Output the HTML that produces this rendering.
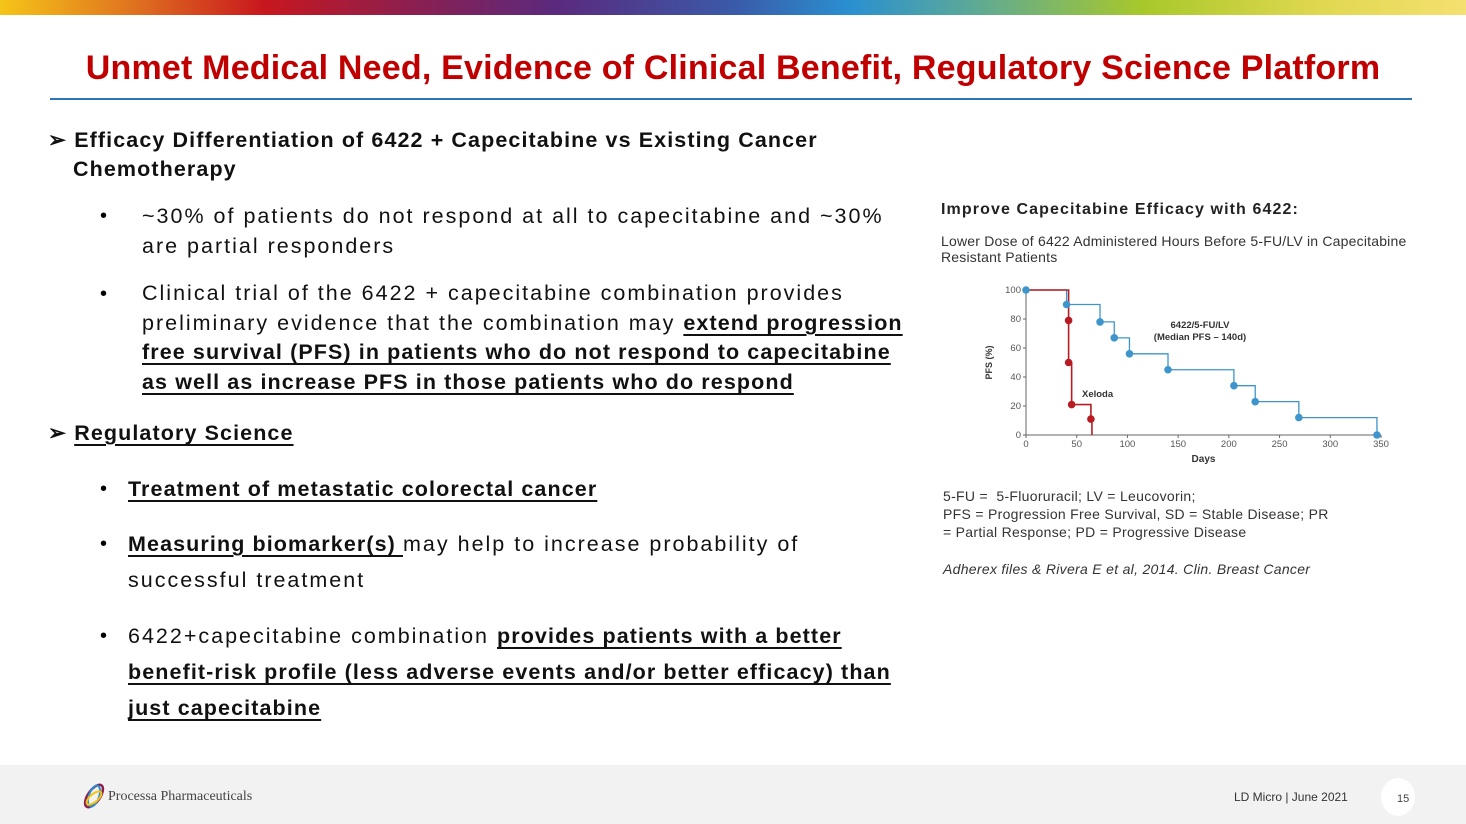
<!DOCTYPE html>
<html><head><meta charset="utf-8"><style>
body{margin:0;width:1466px;height:824px;position:relative;background:#fff;font-family:"Liberation Sans",sans-serif;overflow:hidden}
.a{position:absolute;white-space:nowrap}
.b{font-size:21.5px;color:#111;letter-spacing:2px}
.bold{font-weight:bold;letter-spacing:1.1px}
u{text-decoration-thickness:1.5px;text-underline-offset:4px}
.dot{position:absolute;font-size:20px}
</style></head><body>
<div class="a" style="left:0;top:0;width:1466px;height:15px;background:linear-gradient(90deg,#f5c518 0%,#e0731f 9%,#c8171e 18%,#8c1f4f 28%,#5a2a7e 38%,#3a5aa8 50%,#2a90d0 58%,#5aa89a 66%,#a8c82a 78%,#e0d850 90%,#f5e070 100%)"></div>
<div class="a" style="left:0;width:1466px;text-align:center;top:49px;font-size:34px;color:#c00000;font-weight:bold;letter-spacing:0.2px">Unmet Medical Need, Evidence of Clinical Benefit, Regulatory Science Platform</div>
<div class="a" style="left:50px;top:98px;width:1362px;height:2px;background:#2e75b6"></div>

<div class="a b bold" style="left:48px;top:128px">➢ Efficacy Differentiation of 6422 + Capecitabine vs Existing Cancer</div>
<div class="a b bold" style="left:73px;top:157px">Chemotherapy</div>
<div class="dot" style="left:100px;top:205px">•</div>
<div class="a b" style="left:142px;top:204px">~30% of patients do not respond at all to capecitabine and ~30%</div>
<div class="a b" style="left:142px;top:234px">are partial responders</div>
<div class="dot" style="left:100px;top:283px">•</div>
<div class="a b" style="left:142px;top:281px">Clinical trial of the 6422 + capecitabine combination provides</div>
<div class="a b" style="left:142px;top:311px">preliminary evidence that the combination may <u class="bold">extend progression</u></div>
<div class="a b bold" style="left:142px;top:340px"><u>free survival (PFS) in patients who do not respond to capecitabine</u></div>
<div class="a b bold" style="left:142px;top:370px"><u>as well as increase PFS in those patients who do respond</u></div>

<div class="a b bold" style="left:48px;top:421px">➢ <u>Regulatory Science</u></div>
<div class="dot" style="left:100px;top:478px">•</div>
<div class="a b bold" style="left:128px;top:477px"><u>Treatment of metastatic colorectal cancer</u></div>
<div class="dot" style="left:100px;top:533px">•</div>
<div class="a b" style="left:128px;top:532px"><u class="bold">Measuring biomarker(s) </u>may help to increase probability of</div>
<div class="a b" style="left:128px;top:568px">successful treatment</div>
<div class="dot" style="left:100px;top:625px">•</div>
<div class="a b" style="left:128px;top:624px">6422+capecitabine combination <u class="bold">provides patients with a better</u></div>
<div class="a b bold" style="left:128px;top:660px"><u>benefit-risk profile (less adverse events and/or better efficacy) than</u></div>
<div class="a b bold" style="left:128px;top:696px"><u>just capecitabine</u></div>

<div class="a" style="left:941px;top:201px;font-size:16px;font-weight:bold;color:#222;letter-spacing:1.1px">Improve Capecitabine Efficacy with 6422:</div>
<div class="a" style="left:941px;top:233px;font-size:14px;color:#333;line-height:16px;letter-spacing:0.2px">Lower Dose of 6422 Administered Hours Before 5-FU/LV in Capecitabine<br>Resistant Patients</div>

<svg class="a" id="chart" style="left:0;top:0" width="1466" height="824"></svg>

<div class="a" style="left:943px;top:487px;font-size:14px;color:#333;line-height:18px;letter-spacing:0.3px">5-FU =&nbsp; 5-Fluoruracil; LV = Leucovorin;<br>PFS = Progression Free Survival, SD = Stable Disease; PR<br>= Partial Response; PD = Progressive Disease</div>
<div class="a" style="left:943px;top:561px;font-size:14px;color:#333;font-style:italic;letter-spacing:0.3px">Adherex files &amp; Rivera E et al, 2014. Clin. Breast Cancer</div>

<div class="a" style="left:0;top:765px;width:1466px;height:59px;background:#f2f2f2"></div>
<svg class="a" style="left:80px;top:781px" width="28" height="30"><ellipse cx="14" cy="15" rx="6" ry="13" transform="rotate(35 14 15)" fill="none" stroke="#8c1f4f" stroke-width="2.5"/><ellipse cx="14" cy="15" rx="5" ry="11" transform="rotate(20 14 15)" fill="none" stroke="#2a90d0" stroke-width="2"/><ellipse cx="14" cy="17" rx="4" ry="9" transform="rotate(50 14 17)" fill="none" stroke="#f5c518" stroke-width="2"/></svg>
<div class="a" style="left:108px;top:789px;font-family:'Liberation Serif',serif;font-size:14px;color:#444">Processa Pharmaceuticals</div>
<div class="a" style="left:1234px;top:790px;font-size:12px;color:#333">LD Micro | June 2021</div>
<div class="a" style="left:1381px;top:778px;width:34px;height:38px;border-radius:50%;background:#fff"></div>
<div class="a" style="left:1397px;top:793px;font-size:11px;color:#444">15</div>

<script>
const xTicks=[0,50,100,150,200,250,300,350];
const yTicks=[0,20,40,60,80,100];
const blueDays=[0,40,73,87,102,140,205,226,269,346];
const bluePfs=[100,90,78,67,56,45,34,23,12,0];
const redDays=[0,42,42,45,64];
const redPfs=[100,79,50,21,11];
const redEnd=65;
const X=d=>1026+d*(1381-1026)/350;
const Y=v=>435-v*1.45;
const svg=document.getElementById('chart');
const NS='http://www.w3.org/2000/svg';
function mk(t,a){const e=document.createElementNS(NS,t);for(const k in a)e.setAttribute(k,a[k]);svg.appendChild(e);return e;}
let e=mk('path',{d:`M${X(0)},${Y(100)}V${Y(0)}H${X(350)}`,fill:'none',stroke:'#666','stroke-width':1});


xTicks.forEach(t=>{mk('line',{x1:X(t),x2:X(t),y1:Y(0),y2:Y(0)+3,stroke:'#666'});
 const l=mk('text',{x:X(t),y:Y(0)+12,'font-size':9.5,'text-anchor':'middle',fill:'#555','font-family':'Liberation Sans'});l.textContent=t;
 
 });
yTicks.forEach(t=>{mk('line',{x1:X(0)-3,x2:X(0),y1:Y(t),y2:Y(t),stroke:'#666'});
 const l=mk('text',{x:X(0)-5,y:Y(t)+3,'font-size':9.5,'text-anchor':'end',fill:'#555','font-family':'Liberation Sans'});l.textContent=t;
 
 });
let t=mk('text',{x:X(175),y:462,'font-size':10,'font-weight':'bold','text-anchor':'middle',fill:'#333','font-family':'Liberation Sans'});t.textContent='Days';


t=mk('text',{x:0,y:0,'font-size':9,'font-weight':'bold','text-anchor':'middle',fill:'#333','font-family':'Liberation Sans',transform:`translate(992,${Y(50)}) rotate(-90)`});t.textContent='PFS (%)';


let d=`M${X(blueDays[0])},${Y(bluePfs[0])}`;
for(let i=1;i<blueDays.length;i++)d+=`H${X(blueDays[i])}V${Y(bluePfs[i])}`;
e=mk('path',{d,fill:'none',stroke:'#3d95cc','stroke-width':1.3});


d=`M${X(redDays[0])},${Y(redPfs[0])}`;
for(let i=1;i<redDays.length;i++)d+=`H${X(redDays[i])}V${Y(redPfs[i])}`;
d+=`H${X(redEnd)}V${Y(0)}`;
e=mk('path',{d,fill:'none',stroke:'#b81c22','stroke-width':1.6});


blueDays.forEach((x,i)=>{const c=mk('circle',{cx:X(x),cy:Y(bluePfs[i]),r:3.8,fill:'#3d95cc'});
 
 });
redDays.slice(1).forEach((x,i)=>{const c=mk('circle',{cx:X(x),cy:Y(redPfs[i+1]),r:3.8,fill:'#b81c22'});
 
 });
t=mk('text',{x:1200,y:328,'font-size':9.5,'font-weight':'bold','text-anchor':'middle',fill:'#333','font-family':'Liberation Sans'});t.textContent='6422/5-FU/LV';


t=mk('text',{x:1200,y:340,'font-size':9.5,'font-weight':'bold','text-anchor':'middle',fill:'#333','font-family':'Liberation Sans'});t.textContent='(Median PFS – 140d)';


t=mk('text',{x:1082,y:397,'font-size':9.5,'font-weight':'bold',fill:'#333','font-family':'Liberation Sans'});t.textContent='Xeloda';


</script>
</body></html>
